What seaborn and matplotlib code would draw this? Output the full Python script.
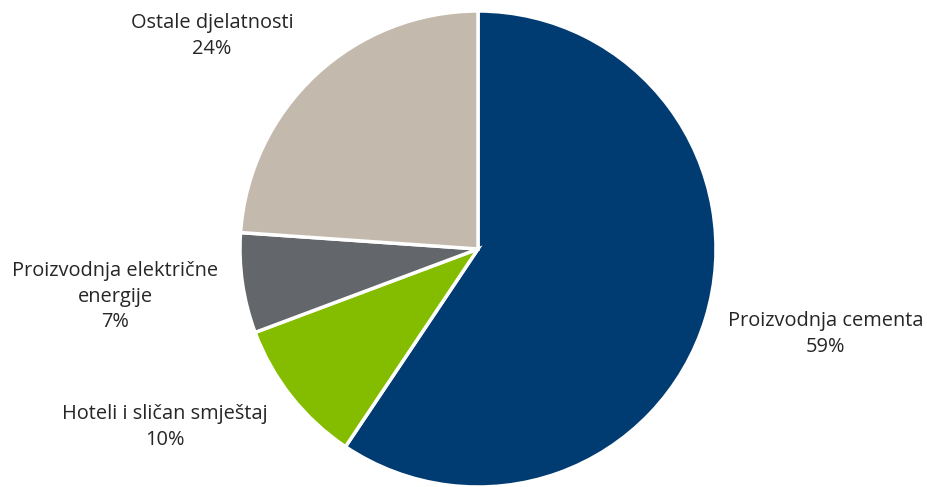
import numpy as np
import matplotlib
matplotlib.use("Agg")
import matplotlib.pyplot as plt
import seaborn as sns

# data (shares, labels show rounded values)
labels = ['Proizvodnja cementa', 'Hoteli i sličan smještaj',
          'Proizvodnja električne\nenergije', 'Ostale djelatnosti']
shares = [59.4, 9.9, 6.8, 23.9]
colors = ['#003B71', '#84BD00', '#63666A', '#C4B9AD']

# label centres in data units (radius = 1)
label_x = [1.46, -1.315, -1.525, -1.118]
label_y = [-0.357, -0.748, -0.2, 0.895]

sns.set_theme(style="white")
plt.rcParams['font.family'] = ['Open Sans', 'DejaVu Sans']

fig = plt.figure(figsize=(9.28, 4.87), dpi=100)
ax = fig.add_axes([240 / 928, 0 / 487, 476 / 928, 476 / 487])

wedges, texts = ax.pie(shares, colors=colors, startangle=90, counterclock=False,
                       wedgeprops=dict(edgecolor='white', linewidth=2.5))

for t in texts:
    t.set_visible(False)

for lab, val, x, y in zip(labels, shares, label_x, label_y):
    ax.text(x, y, f'{lab}\n{round(val)}%', ha='center', va='center', fontsize=14.4,
            color='#262626', linespacing=1.35, clip_on=False)

ax.set_xlim(-1, 1)
ax.set_ylim(-1, 1)
ax.set_aspect('equal')
ax.axis('off')

fig.savefig('out.png', dpi=100)
